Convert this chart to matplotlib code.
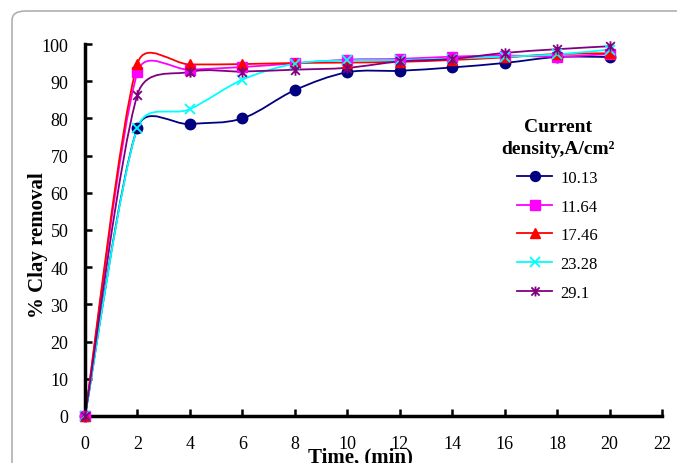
import numpy as np
import matplotlib
matplotlib.use("Agg")
import matplotlib.pyplot as plt
from matplotlib.path import Path
from matplotlib.patches import PathPatch, FancyBboxPatch
from matplotlib.lines import Line2D

plt.rcParams['font.family'] = ['Liberation Serif', 'DejaVu Serif']

time_min = [0, 2, 4, 6, 8, 10, 12, 14, 16, 18, 20]
series_labels = ["10.13", "11.64", "17.46", "23.28", "29.1"]
removal_1013 = [0, 77.5, 78.5, 80.0, 87.6, 92.4, 92.8, 93.7, 94.9, 96.5, 96.5]
removal_1164 = [0, 92.4, 93.1, 93.8, 94.8, 95.8, 96.0, 96.6, 96.9, 96.6, 97.3]
removal_1746 = [0, 94.7, 94.5, 94.6, 94.9, 95.0, 95.2, 95.7, 96.4, 97.3, 97.5]
removal_2328 = [0, 77.5, 82.5, 90.4, 94.7, 95.6, 95.7, 96.1, 96.6, 97.2, 98.5]
removal_291 = [0, 86.4, 92.5, 92.6, 93.1, 93.6, 95.3, 96.0, 97.6, 98.6, 99.4]

colors = ["#000080", "#FF00FF", "#FF0000", "#00FFFF", "#800080"]

# Excel-like star marker (x with vertical bar)
star = Path([(-1, -1), (1, 1), (-1, 1), (1, -1), (0, -1.2), (0, 1.2)],
            [Path.MOVETO, Path.LINETO, Path.MOVETO, Path.LINETO, Path.MOVETO, Path.LINETO])
markers = ["o", "s", "^", "x", star]
msizes = [7.5, 7, 7.5, 7.5, 7.5]

W, H = 677, 464
fig = plt.figure(figsize=(W / 100, H / 100), dpi=100)
ax = fig.add_axes([85 / W, 1 - 417 / H, (662 - 85) / W, (417 - 45) / H])
ax.set_xlim(0, 22)
ax.set_ylim(0, 100)


def excel_smooth_path(xs, ys):
    pts = ax.transData.transform(np.column_stack([xs, ys]))
    n = len(pts)
    verts = [pts[0]]
    codes = [Path.MOVETO]
    for i in range(n - 1):
        p0 = pts[i - 1] if i > 0 else pts[i]
        p1 = pts[i]
        p2 = pts[i + 1]
        p3 = pts[i + 2] if i + 2 < n else pts[i + 1]
        d12 = np.hypot(*(p2 - p1))
        d02 = np.hypot(*(p2 - p0))
        d13 = np.hypot(*(p3 - p1))
        f = 1 / 6
        g = 1 / 6
        if d02 > 0 and d02 / 6 >= d12 / 2:
            f = d12 / d02 / 2
        if d13 > 0 and d13 / 6 >= d12 / 2:
            g = d12 / d13 / 2
        c1 = p1 + f * (p2 - p0)
        c2 = p2 - g * (p3 - p1)
        verts += [c1, c2, p2]
        codes += [Path.CURVE4] * 3
    vd = ax.transData.inverted().transform(np.array(verts))
    return Path(vd, codes)


all_series = [removal_1013, removal_1164, removal_1746, removal_2328, removal_291]
for ys, c, m, ms in zip(all_series, colors, markers, msizes):
    p = excel_smooth_path(time_min, ys)
    ax.add_patch(PathPatch(p, facecolor="none", edgecolor=c, lw=1.3, clip_on=False, zorder=2))
    mew = 1.3 if (m == "x" or m is star) else 1
    ax.plot(time_min, ys, linestyle="none", marker=m, markersize=ms, color=c,
            markeredgecolor=c, markeredgewidth=mew, clip_on=False, zorder=3)

for s in ["top", "right"]:
    ax.spines[s].set_visible(False)
for s in ["left", "bottom"]:
    ax.spines[s].set_linewidth(2.5)
ax.set_xticks(range(0, 23, 2))
ax.set_yticks(range(0, 101, 10))
ax.tick_params(axis="both", direction="in", length=5, width=1.8, labelsize=13)
ax.tick_params(axis="x", pad=14)
ax.tick_params(axis="y", pad=12)

fig.text(38 / W, 1 - 245 / H, "% Clay removal", rotation=90, ha="center", va="center",
         fontsize=15, fontweight="bold")
fig.text(360 / W, 1 - 447 / H, "Time, (min)", ha="center", va="top",
         fontsize=15, fontweight="bold")

handles = [Line2D([], [], color=c, marker=m, markersize=ms * 0.95, lw=1.3,
                  markeredgecolor=c, markeredgewidth=1.3 if (m == "x" or m is star) else 1)
           for c, m, ms in zip(colors, markers, msizes)]
leg = fig.legend(handles, series_labels, loc="upper left",
                 bbox_to_anchor=(486 / W, 1 - 104 / H), frameon=False,
                 title="Current\ndensity,A/cm²", fontsize=12, handlelength=2.1,
                 labelspacing=0.76, handletextpad=0.5, alignment="center")
leg.get_title().set_fontweight("bold")
leg.get_title().set_fontsize(14)
leg.get_title().set_multialignment("center")
leg.get_title().set_linespacing(1.4)

frame = FancyBboxPatch((12 / W, -0.2), 1.2, 1 - 12 / H + 0.2, boxstyle="round,pad=0,rounding_size=0.02",
                       transform=fig.transFigure, facecolor="none", edgecolor="#b0b0b0",
                       lw=1.2, clip_on=False)
fig.patches.append(frame)

fig.savefig("out.png", dpi=100)
